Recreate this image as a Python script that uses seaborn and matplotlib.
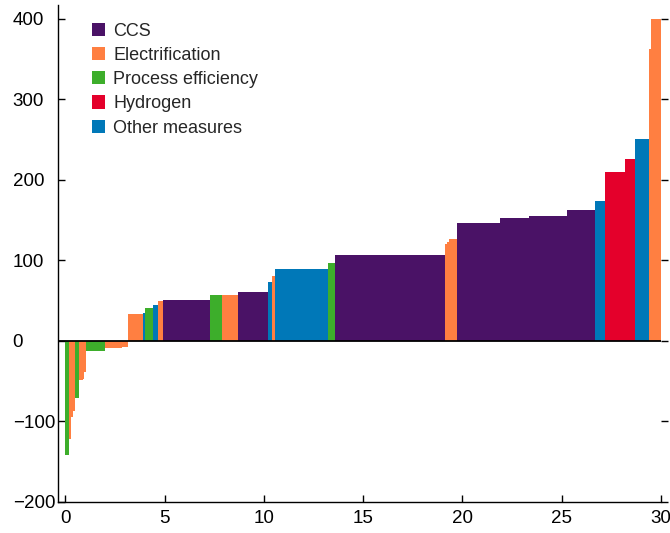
import numpy as np
import pandas as pd
import seaborn as sns
import matplotlib.pyplot as plt
from matplotlib.patches import Patch

# Abatement measures, ordered by cost (width = abatement potential)
measures = ["Process efficiency", "Electrification", "Electrification", "Electrification",
            "Process efficiency", "Electrification", "Electrification", "Electrification",
            "Process efficiency", "Electrification", "Electrification", "Electrification",
            "Other measures", "Process efficiency", "Other measures", "Electrification",
            "CCS", "Process efficiency", "Electrification", "CCS",
            "Other measures", "Electrification", "Other measures", "Process efficiency",
            "CCS", "Electrification", "Electrification", "Electrification",
            "CCS", "CCS", "CCS", "CCS",
            "Other measures", "Hydrogen", "Hydrogen", "Other measures",
            "Electrification", "Electrification"]
widths = [0.2, 0.1, 0.1, 0.1, 0.2, 0.2, 0.05, 0.1, 0.95, 0.85, 0.3, 0.75,
          0.1, 0.4, 0.25, 0.25, 2.4, 0.6, 0.8, 1.5, 0.2, 0.15, 2.7, 0.35,
          5.55, 0.1, 0.1, 0.4, 2.15, 1.45, 1.9, 1.45, 0.5, 1.0, 0.5, 0.7,
          0.1, 0.5]
costs = [-142, -122, -94, -87, -71, -49, -47, -39, -13, -9, -7, 33,
         35, 41, 45, 49, 51, 57, 57.5, 61, 73.5, 81, 89.5, 97,
         106, 120, 123, 126, 146, 152, 155, 162, 174, 210, 226, 251,
         362, 400]

legend_order = ["CCS", "Electrification", "Process efficiency", "Hydrogen", "Other measures"]
colors = ["#4a1266", "#ff7f41", "#3dae2b", "#e4002b", "#0078b8"]
yticks = [-200, -100, 0, 100, 200, 300, 400]
ytick_labels = ["\u2212200", "\u2212100", "0", "100", "200", "300", "400"]
xticks = [0, 5, 10, 15, 20, 25, 30]

sns.set_style("ticks")
plt.rcParams['font.family'] = ['Liberation Sans', 'DejaVu Sans']
palette = dict(zip(legend_order, sns.color_palette(colors)))

df = pd.DataFrame({"measure": measures, "width": widths, "cost": costs})
df["left"] = df["width"].cumsum() - df["width"]

fig = plt.figure(figsize=(6.7, 5.33), dpi=100)
ax = fig.add_axes([0.0873, 0.0582, 0.899, 0.9325])

ax.bar(df["left"], df["cost"], width=df["width"], align="edge",
       color=[palette[m] for m in df["measure"]], linewidth=0)

ax.axhline(0, color="black", lw=1.3, zorder=5)
ax.set_xlim(-0.35, 30)
ax.set_ylim(-200, 417)
ax.set_xticks(xticks)
ax.set_yticks(yticks, labels=ytick_labels, ha="left")

sns.despine(ax=ax)
for s in ["left", "bottom"]:
    ax.spines[s].set_linewidth(1.0)
    ax.spines[s].set_color("black")

ax.tick_params(axis="both", direction="in", length=5, width=1, colors="black",
               labelsize=13.5)
ax.tick_params(axis="y", pad=33)
ax.tick_params(axis="x", pad=6)

# short outward ticks on the right side
sec = ax.secondary_yaxis("right")
sec.set_yticks(yticks)
sec.tick_params(direction="out", length=5, width=1, labelright=False, colors="black")
sec.spines["right"].set_visible(False)

handles = [Patch(facecolor=palette[m], edgecolor="none") for m in legend_order]
ax.legend(handles, legend_order, loc="upper left", bbox_to_anchor=(0.043, 0.979),
          frameon=False, fontsize=13, handlelength=0.75, handleheight=0.75,
          handletextpad=0.45, labelspacing=0.4, borderaxespad=0)

fig.savefig("out.png", dpi=100)
